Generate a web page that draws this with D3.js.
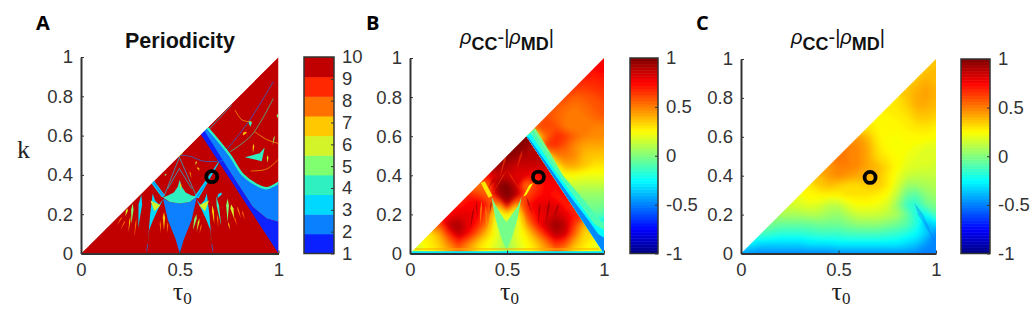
<!DOCTYPE html>
<html>
<head>
<meta charset="utf-8">
<script src="https://cdn.jsdelivr.net/npm/d3@7"></script>
<style>
  body { margin: 0; background: #fff; }
  text { font-family: 'Liberation Sans', Arial, sans-serif; }
  .axis path, .axis line { stroke: #333; }
  .axis text { font-size: 18.5px; fill: #333; font-family: 'Liberation Sans', Arial, sans-serif; }
</style>
</head>
<body>
<div id="chart"></div>
<script>
// tick labels
var kTicks = [0, 0.2, 0.4, 0.6, 0.8, 1];
var tauTicks = [0, 0.5, 1];
var periodTicks = [1, 2, 3, 4, 5, 6, 7, 8, 9, 10];
var corrTicks = [-1, -0.5, 0, 0.5, 1];

// the black ring, same place in every panel
var ringPoint = [0.662, 0.391];

// panel A: colour of each period, then the regions as [tau, k] outlines
var periodColors = ['#0a20ff', '#0a80ff', '#00d8ff', '#2ff0c0', '#80ff70', '#d2f428', '#ffc800', '#ff7000', '#ff2800', '#c00000'];
var wholeArea = [[0, 0], [1, 1], [1, 0]];
var bandDark = [[0.607, 0.605], [1, 0], [1, 0.16], [0.94, 0.178], [0.87, 0.237], [0.77, 0.39], [0.625, 0.625]];
var bandMid = [[0.622, 0.622], [0.77, 0.39], [0.87, 0.237], [0.94, 0.178], [1, 0.16], [1, 0.36], [0.939, 0.332], [0.889, 0.35], [0.82, 0.4], [0.754, 0.5], [0.64, 0.64]];
var spade = [[0.5, 0], [0.48, 0.07], [0.44, 0.17], [0.415, 0.28], [0.45, 0.262], [0.5, 0.255], [0.55, 0.262], [0.587, 0.29], [0.56, 0.17], [0.52, 0.07]];
var crescent = [[0.415, 0.285], [0.44, 0.295], [0.47, 0.31], [0.49, 0.34], [0.5, 0.375], [0.51, 0.34], [0.53, 0.31], [0.56, 0.295], [0.587, 0.29], [0.55, 0.262], [0.5, 0.255], [0.45, 0.262]];
var leftBand = [[0.355, 0.36], [0.37, 0.37], [0.425, 0.295], [0.41, 0.285]];
var leftBandCore = [[0.364, 0.36], [0.37, 0.362], [0.418, 0.295], [0.412, 0.292]];
var rightBand = [[0.575, 0.29], [0.595, 0.28], [0.655, 0.385], [0.7, 0.465], [0.695, 0.465], [0.64, 0.385]];
var rightBandCore = [[0.585, 0.29], [0.592, 0.287], [0.648, 0.38], [0.64, 0.37]];
var leftWedge = [[0.338, 0.05], [0.35, 0.2], [0.363, 0.305], [0.375, 0.27], [0.395, 0.25], [0.416, 0.275], [0.39, 0.225], [0.365, 0.17], [0.345, 0.12]];
var rightWedge = [[0.662, 0.05], [0.65, 0.2], [0.637, 0.305], [0.625, 0.27], [0.605, 0.25], [0.584, 0.275], [0.61, 0.225], [0.635, 0.17], [0.655, 0.12]];
var leftYellow = [[0.352, 0.27], [0.372, 0.215], [0.402, 0.245]];
var rightYellow = [[0.648, 0.27], [0.628, 0.215], [0.598, 0.245]];
var starRight = [[0.83, 0.49], [0.905, 0.51], [0.93, 0.54], [0.915, 0.47]];
var periodRegions = [
  [2, bandMid], [1, bandDark], [2, spade], [4, crescent], [3, leftBand], [2, leftBandCore],
  [3, rightBand], [2, rightBandCore], [3, leftWedge], [3, rightWedge], [6, leftYellow],
  [6, rightYellow], [4, starRight],
];

// panel A: thin curves [period, points]
var curveEdge = [[0.64, 0.64], [0.754, 0.5], [0.82, 0.4], [0.889, 0.35], [0.939, 0.332], [1, 0.36]];
var thinCurves = [
  [3, [[0.645, 0.628], [0.763, 0.756]]],
  [2, [[0.737, 0.527], [0.855, 0.68], [0.974, 0.875]]],
  [4, [[0.755, 0.518], [0.864, 0.603], [0.974, 0.79]]],
  [7, [[0.78, 0.73], [0.815, 0.68], [0.864, 0.67]]],
  [2, [[0.5, 0.5], [0.55, 0.495], [0.62, 0.47], [0.7, 0.47], [0.74, 0.475]]],
  [3, [[0.498, 0.49], [0.42, 0.29]]],
  [3, [[0.498, 0.49], [0.585, 0.29]]],
  [3, [[0.498, 0.433], [0.56, 0.33]]],
  [3, [[0.498, 0.433], [0.44, 0.33]]],
  [2, [[0.338, 0.05], [0.332, 0.01]]],
  [2, [[0.662, 0.05], [0.668, 0.01]]],
  [7, [[0.86, 0.42], [0.94, 0.43], [1, 0.48]]],
  [7, [[0.88, 0.62], [0.94, 0.58], [1, 0.56]]],
];

// panel A: small spikes [tip tau, tip k, top tau, top k, half width, period]
var periodSpikes = [
  [0.29, 0.13, 0.305, 0.3, 0.009, 3],
  [0.255, 0.15, 0.262, 0.255, 0.006, 5],
  [0.225, 0.19, 0.235, 0.23, 0.005, 6],
  [0.18, 0.14, 0.21, 0.19, 0.003, 8],
  [0.2, 0.12, 0.225, 0.17, 0.003, 8],
  [0.24, 0.11, 0.25, 0.19, 0.003, 7],
  [0.27, 0.08, 0.28, 0.18, 0.003, 8],
  [0.42, 0.12, 0.42, 0.21, 0.006, 7],
  [0.405, 0.1, 0.4, 0.17, 0.003, 8],
  [0.435, 0.1, 0.44, 0.16, 0.003, 8],
  [0.567, 0.12, 0.585, 0.2, 0.006, 5],
  [0.585, 0.11, 0.6, 0.18, 0.004, 6],
  [0.6, 0.1, 0.61, 0.15, 0.003, 8],
  [0.71, 0.14, 0.685, 0.29, 0.006, 4],
  [0.742, 0.16, 0.742, 0.28, 0.007, 5],
  [0.775, 0.18, 0.76, 0.25, 0.008, 6],
  [0.81, 0.18, 0.79, 0.24, 0.004, 8],
  [0.83, 0.17, 0.815, 0.22, 0.003, 8],
  [0.79, 0.14, 0.775, 0.19, 0.003, 8],
  [0.755, 0.12, 0.745, 0.16, 0.003, 7],
  [0.675, 0.15, 0.665, 0.245, 0.005, 7],
  [0.695, 0.13, 0.69, 0.2, 0.003, 8],
  [0.69, 0.28, 0.71, 0.31, 0.01, 3],
  [0.505, 0.32, 0.505, 0.36, 0.003, 7],
  [0.58, 0.45, 0.585, 0.47, 0.004, 6],
  [0.425, 0.395, 0.43, 0.405, 0.005, 5],
  [0.495, 0.49, 0.51, 0.52, 0.01, 6],
  [0.29, 0.29, 0.305, 0.32, 0.007, 3],
  [0.857, 0.645, 0.857, 0.675, 0.009, 4],
  [0.82, 0.6, 0.835, 0.62, 0.01, 7],
  [0.87, 0.51, 0.875, 0.56, 0.004, 7],
  [0.945, 0.46, 0.945, 0.5, 0.004, 6],
  [0.97, 0.55, 0.98, 0.6, 0.003, 5],
  [0.6, 0.42, 0.59, 0.44, 0.004, 7],
  [0.56, 0.38, 0.55, 0.42, 0.002, 7],
  [0.995, 0.69, 0.995, 0.71, 0.005, 5],
];

// panel B left of the edge: rows go up in k by 0.05, each row starts on the diagonal
var fieldBLeft = [
  [0.12, 0.2, 0.26, 0.3, 0.4, 0.5, 0.42, 0.3, 0.22, 0.15, 0.05, 0.15, 0.22, 0.3, 0.42, 0.5, 0.42, 0.3, 0.26, 0.2, 0.15],
  [0.2, 0.28, 0.35, 0.5, 0.65, 0.5, 0.35, 0.25, 0.18, 0.05, 0.18, 0.25, 0.35, 0.5, 0.68, 0.6, 0.4, 0.3, 0.22],
  [0.28, 0.42, 0.68, 0.88, 0.75, 0.55, 0.35, 0.2, 0.05, 0.2, 0.3, 0.5, 0.72, 0.9, 0.85, 0.55, 0.32],
  [0.6, 0.88, 0.92, 0.8, 0.7, 0.5, 0.15, 0.1, 0.15, 0.45, 0.7, 0.85, 0.95, 0.88, 0.65, 0.4],
  [0.75, 0.8, 0.8, 0.75, 0.6, 0.2, 0.3, 0.2, 0.6, 0.75, 0.8, 0.85, 0.8, 0.7],
  [0.7, 0.75, 0.8, 0.7, 0.4, 0.88, 0.4, 0.7, 0.8, 0.8, 0.8, 0.7],
  [0.7, 0.65, 0.55, 0.9, 1, 0.9, 0.6, 0.7, 0.75, 0.7, 0.75],
  [0.5, 0.55, 0.95, 1, 0.85, 0.5, 0.65, 0.75, 0.75],
  [0.75, 0.85, 0.85, 0.8, 0.8, 0.72, 0.8, 0.8],
  [0.95, 0.9, 0.85, 0.85, 0.85, 0.85],
  [0.98, 0.95, 0.9, 0.9],
  [1, 0.95, 0.9],
  [1, 0.95],
];

// panel B right of the edge: rows go up in k by 0.05, each row ends at tau = 1
var fieldBRight = [
  [-0.5, -0.6],
  [-0.35, -0.55],
  [-0.2, -0.4, -0.45],
  [-0.05, -0.1, -0.2, -0.3],
  [-0.03, -0.03, -0.04, -0.06, -0.1],
  [-0.02, -0.02, -0.02, -0.01, -0.01, -0.01],
  [0, 0.01, 0.03, 0.04, 0.04, 0.04, 0.04],
  [0, 0.04, 0.08, 0.12, 0.14, 0.13, 0.13, 0.13],
  [0, 0.02, 0.07, 0.16, 0.24, 0.25, 0.22, 0.22, 0.22],
  [0.03, 0.08, 0.18, 0.26, 0.42, 0.42, 0.36, 0.3, 0.3],
  [0.08, 0.12, 0.26, 0.48, 0.52, 0.48, 0.38, 0.36, 0.36],
  [0.18, 0.26, 0.64, 0.66, 0.58, 0.48, 0.42, 0.42, 0.42],
  [0.26, 0.54, 0.67, 0.64, 0.55, 0.5, 0.48, 0.48],
  [0.58, 0.62, 0.6, 0.52, 0.5, 0.5, 0.5, 0.5],
  [0.6, 0.56, 0.52, 0.52, 0.52, 0.55, 0.58],
  [0.58, 0.54, 0.52, 0.54, 0.58, 0.6],
  [0.62, 0.56, 0.58, 0.6, 0.64],
  [0.65, 0.64, 0.66, 0.68],
  [0.7, 0.7, 0.72],
  [0.74, 0.76],
  [0.78],
];

// panel B: sharp features laid over the two fields, [value, outline]
var areaBLeft = [[0, 0], [0.6, 0.6], [1, 0]];
var areaBRight = [[0.6, 0.6], [1, 1], [1, 0]];
var edgeGreen = [[0.6, 0.6], [0.644, 0.642], [0.72, 0.52], [0.8, 0.38], [0.84, 0.28], [0.8, 0.3]];
var edgeTeal = [[0.6, 0.6], [0.635, 0.63], [0.77, 0.42], [0.9, 0.27], [0.98, 0.17], [1, 0.16], [1, 0]];
var edgeCyan = [[0.6, 0.6], [0.62, 0.615], [0.75, 0.42], [0.87, 0.26], [0.95, 0.15], [1, 0.12], [1, 0]];
var edgeBlue = [[0.6, 0.6], [0.61, 0.595], [0.82, 0.3], [0.92, 0.17], [0.97, 0.1], [1, 0.08], [1, 0]];
var centreV = [[0.42, 0.29], [0.44, 0.18], [0.47, 0.08], [0.497, 0.02], [0.525, 0.08], [0.555, 0.18], [0.575, 0.29], [0.555, 0.24], [0.525, 0.2], [0.497, 0.16], [0.47, 0.2], [0.44, 0.25]];
var leftStreak = [[0.365, 0.36], [0.385, 0.37], [0.425, 0.295], [0.405, 0.285]];
var rightStreak = [[0.583, 0.29], [0.6, 0.3], [0.635, 0.36], [0.615, 0.35]];
var stripBlue = [[0, 0], [1, 0], [1, 0.012], [0, 0.012]];
var stripOrange = [[0.025, 0.02], [0.975, 0.02], [0.975, 0.026], [0.025, 0.026]];
var fieldBRegions = [
  [-0.02, edgeGreen], [-0.1, edgeTeal], [-0.25, edgeCyan], [-0.48, edgeBlue], [-0.02, centreV],
  [0.3, leftStreak], [0.25, rightStreak], [-0.3, stripBlue], [0.42, stripOrange],
];

// panel B: streaks [tip tau, tip k, top tau, top k, half width, value]
var fieldBSpikes = [
  [0.7, 0.15, 0.72, 0.28, 0.006, 1],
  [0.74, 0.18, 0.77, 0.26, 0.005, 1],
  [0.66, 0.14, 0.67, 0.26, 0.004, 1],
  [0.62, 0.05, 0.565, 0.25, 0.004, 0.36],
  [0.38, 0.05, 0.435, 0.25, 0.004, 0.36],
  [0.36, 0.14, 0.37, 0.27, 0.005, 0.4],
  [0.395, 0.12, 0.39, 0.25, 0.004, 0.45],
  [0.31, 0.12, 0.33, 0.24, 0.005, 1],
  [0.35, 0.17, 0.34, 0.27, 0.003, 1],
  [0.58, 0.3, 0.5, 0.43, 0.003, 0.6],
  [0.42, 0.3, 0.5, 0.43, 0.003, 0.6],
  [0.4, 0.33, 0.44, 0.39, 0.006, 0.95],
  [0.46, 0.38, 0.5, 0.52, 0.005, 0.62],
  [0.55, 0.43, 0.58, 0.53, 0.006, 0.65],
  [0.63, 0.2, 0.6, 0.29, 0.004, 1],
  [0.41, 0.2, 0.42, 0.27, 0.004, 1],
];

// panel C: rows go up in k by 0.05, each row starts on the diagonal
var fieldC = [
  [-0.42, -0.46, -0.48, -0.48, -0.48, -0.48, -0.48, -0.48, -0.48, -0.48, -0.46, -0.46, -0.46, -0.46, -0.46, -0.46, -0.46, -0.46, -0.48, -0.52, -0.48],
  [-0.28, -0.33, -0.33, -0.33, -0.33, -0.33, -0.3, -0.3, -0.3, -0.28, -0.28, -0.28, -0.28, -0.28, -0.28, -0.28, -0.32, -0.36, -0.45, -0.5],
  [-0.12, -0.15, -0.18, -0.18, -0.18, -0.16, -0.14, -0.14, -0.14, -0.12, -0.12, -0.12, -0.12, -0.14, -0.16, -0.2, -0.25, -0.35, -0.5],
  [-0.02, -0.05, -0.05, -0.05, -0.05, -0.03, -0.03, -0.03, 0, 0.03, 0.03, 0.03, 0, -0.03, -0.08, -0.18, -0.38, -0.3],
  [0.08, 0.08, 0.08, 0.1, 0.1, 0.06, 0.04, 0.1, 0.15, 0.15, 0.15, 0.12, 0.08, -0.04, -0.2, -0.25, -0.08],
  [0.16, 0.18, 0.2, 0.18, 0.12, 0.12, 0.2, 0.24, 0.24, 0.22, 0.18, 0.04, -0.14, -0.18, -0.04, 0],
  [0.22, 0.27, 0.27, 0.27, 0.27, 0.3, 0.3, 0.3, 0.28, 0.24, 0.12, -0.05, -0.08, 0.02, 0.06],
  [0.28, 0.35, 0.38, 0.35, 0.32, 0.32, 0.35, 0.35, 0.3, 0.18, 0.05, 0.05, 0.08, 0.1],
  [0.38, 0.45, 0.48, 0.45, 0.42, 0.42, 0.38, 0.3, 0.22, 0.15, 0.13, 0.13, 0.13],
  [0.45, 0.5, 0.5, 0.48, 0.42, 0.38, 0.32, 0.25, 0.2, 0.18, 0.18, 0.16],
  [0.5, 0.5, 0.48, 0.42, 0.32, 0.28, 0.25, 0.22, 0.2, 0.18, 0.18],
  [0.5, 0.48, 0.42, 0.3, 0.25, 0.24, 0.24, 0.22, 0.2, 0.2],
  [0.45, 0.38, 0.28, 0.25, 0.24, 0.26, 0.26, 0.26, 0.24],
  [0.3, 0.27, 0.25, 0.26, 0.28, 0.3, 0.3, 0.28],
  [0.27, 0.27, 0.28, 0.3, 0.35, 0.36, 0.33],
  [0.28, 0.3, 0.33, 0.4, 0.4, 0.38],
  [0.3, 0.36, 0.42, 0.43, 0.4],
  [0.36, 0.4, 0.43, 0.4],
  [0.36, 0.4, 0.4],
  [0.36, 0.38],
  [0.36],
];

// panel C: the dark streak near the right edge, same form as the other spikes
var fieldCSpikes = [
  [0.995, 0.06, 0.89, 0.26, 0.014, -0.55],
];

var gridStep = 0.05;
var gridSize = 21;

// set the dimensions of the page and of each panel
var width = 1031;
var height = 321;
var panelA = { left: 81, right: 278.5, top: 57, bottom: 253.5, barLeft: 304, barRight: 334, labelX: 180, letter: 'A', letterX: 36 };
var panelB = { left: 410, right: 604, top: 58, bottom: 253.5, barLeft: 630, barRight: 658, labelX: 507, letter: 'B', letterX: 366 };
var panelC = { left: 741, right: 936, top: 59, bottom: 253.5, barLeft: 961, barRight: 990, labelX: 838, letter: 'C', letterX: 696 };

var svg = d3.select('#chart').append('svg')
  .attr('width', width)
  .attr('height', height);

var defs = svg.append('defs');

// the reference is a soft photo: a light blur for marks, a wider one for the fields
defs.append('filter')
  .attr('id', 'soft')
  .attr('x', '-2%').attr('y', '-2%').attr('width', '104%').attr('height', '104%')
  .append('feGaussianBlur')
  .attr('stdDeviation', 0.5);
defs.append('filter')
  .attr('id', 'wide')
  .attr('x', '-2%').attr('y', '-2%').attr('width', '104%').attr('height', '104%')
  .append('feGaussianBlur')
  .attr('stdDeviation', 2);

// jet colour map for the correlation panels
var jet = d3.scaleLinear()
  .domain([-1, -0.75, -0.25, 0.25, 0.75, 1])
  .range(['#00007f', '#0000ff', '#00ffff', '#ffff00', '#ff0000', '#7f0000'])
  .clamp(true);

function periodColor(p) {
  return periodColors[p - 1];
}

function scalesFor(p) {
  return {
    x: d3.scaleLinear().domain([0, 1]).range([p.left, p.right]),
    y: d3.scaleLinear().domain([0, 1]).range([p.bottom, p.top]),
  };
}

function outlineFor(s) {
  return d3.line()
    .x(function (d) { return s.x(d[0]); })
    .y(function (d) { return s.y(d[1]); });
}

// a thin kite, narrow at the tip and widest near the top
function kite(d) {
  var mx = d[0] + (d[2] - d[0]) * 0.7;
  var my = d[1] + (d[3] - d[1]) * 0.7;
  return [[d[0], d[1]], [mx - d[4], my], [d[2], d[3]], [mx + d[4], my]];
}

// clip a panel group to an outline in [tau, k]
var clipCount = 0;
function clipped(parent, s, area) {
  clipCount += 1;
  var id = 'clip' + clipCount;
  defs.append('clipPath')
    .attr('id', id)
    .append('path')
    .attr('d', outlineFor(s)(area) + 'Z');
  return parent.append('g').attr('clip-path', 'url(#' + id + ')');
}

// turn the triangle rows into a full rectangle for d3.contours
function toGrid(rows, alignRight) {
  var values = [];
  for (var r = 0; r < gridSize; r++) {
    var row = rows[Math.min(r, rows.length - 1)];
    var start = alignRight ? gridSize - row.length : r;
    for (var c = 0; c < gridSize; c++) {
      var i = Math.max(0, Math.min(row.length - 1, c - start));
      values.push(row[i]);
    }
  }
  return values;
}

// filled contours of one field
function drawField(parent, s, rows, alignRight) {
  var contours = d3.contours()
    .size([gridSize, gridSize])
    .thresholds(d3.range(-1, 1.001, 0.025))(toGrid(rows, alignRight));
  var toScreen = d3.geoTransform({
    point: function (x, y) {
      this.stream.point(s.x((x - 0.5) * gridStep), s.y((y - 0.5) * gridStep));
    },
  });
  parent.append('g')
    .attr('filter', 'url(#wide)')
    .selectAll('path')
    .data(contours)
    .enter().append('path')
    .attr('d', d3.geoPath(toScreen))
    .attr('fill', function (d) { return jet(d.value + 0.0125); });
}

function drawSpikes(parent, s, spikes, opacity) {
  var line = outlineFor(s);
  parent.selectAll(null)
    .data(spikes)
    .enter().append('path')
    .attr('d', function (d) { return line(kite(d)) + 'Z'; })
    .attr('fill', function (d) { return jet(d[5]); })
    .attr('fill-opacity', opacity);
}

function drawAxes(p, s) {
  svg.append('g')
    .attr('class', 'axis')
    .attr('transform', 'translate(' + p.left + ',0)')
    .call(d3.axisLeft(s.y).tickValues(kTicks).tickFormat(String).tickSizeInner(-3).tickSizeOuter(0).tickPadding(8))
    .select('.domain').attr('stroke-width', 2);
  svg.append('g')
    .attr('class', 'axis')
    .attr('transform', 'translate(0,' + p.bottom + ')')
    .call(d3.axisBottom(s.x).tickValues(tauTicks).tickFormat(String).tickSizeInner(-3).tickSizeOuter(0).tickPadding(9))
    .select('.domain').attr('stroke-width', 2);

  // tau label
  var label = svg.append('text')
    .attr('x', (p.left + p.right) / 2 - 7)
    .attr('y', 300)
    .style('font-family', "'Liberation Serif', serif")
    .style('font-size', '26px')
    .style('fill', '#222')
    .text('τ');
  label.append('tspan')
    .attr('dy', 4)
    .style('font-size', '17px')
    .text('0');

  // panel letter
  svg.append('text')
    .attr('x', p.letterX)
    .attr('y', 30)
    .style('font-family', "'Open Sans', sans-serif")
    .style('font-weight', 'bold')
    .style('font-size', '20px')
    .style('fill', '#000')
    .text(p.letter);

  // the ring
  svg.append('circle')
    .attr('cx', s.x(ringPoint[0]))
    .attr('cy', s.y(ringPoint[1]))
    .attr('r', 5.5)
    .attr('fill', 'none')
    .attr('stroke', '#000')
    .attr('stroke-width', 3.8);
}

function drawCorrTitle(p) {
  var t = svg.append('text')
    .attr('x', p.labelX)
    .attr('y', 44)
    .style('text-anchor', 'middle')
    .style('font-size', '20px')
    .style('fill', '#111');
  t.append('tspan').style('font-style', 'italic').text('ρ');
  t.append('tspan').attr('dy', 6).style('font-weight', 'bold').style('font-size', '18px').text('CC');
  t.append('tspan').attr('dy', -6).text('-|');
  t.append('tspan').style('font-style', 'italic').text('ρ');
  t.append('tspan').attr('dy', 6).style('font-weight', 'bold').style('font-size', '18px').text('MD');
  t.append('tspan').attr('dy', -6).text('|');
}

// colour bar, bands drawn from a value scale
function drawBar(p, barScale, bands) {
  var bar = svg.append('g');
  bar.selectAll('rect')
    .data(bands)
    .enter().append('rect')
    .attr('x', p.barLeft)
    .attr('width', p.barRight - p.barLeft)
    .attr('y', function (d) { return barScale(d.to); })
    .attr('height', function (d) { return barScale(d.from) - barScale(d.to) + 0.5; })
    .attr('fill', function (d) { return d.color; });
  bar.append('rect')
    .attr('x', p.barLeft)
    .attr('y', p.top)
    .attr('width', p.barRight - p.barLeft)
    .attr('height', p.bottom - p.top)
    .attr('fill', 'none')
    .attr('stroke', '#333')
    .attr('stroke-width', 1.5);
}

function barAxis(p, scale, ticks) {
  svg.append('g')
    .attr('class', 'axis')
    .attr('transform', 'translate(' + p.barRight + ',0)')
    .call(d3.axisRight(scale).tickValues(ticks).tickFormat(String).tickSizeInner(-3).tickSizeOuter(0).tickPadding(8))
    .select('.domain').remove();
}

// Panel A
var sA = scalesFor(panelA);
var lineA = outlineFor(sA);
var curveA = outlineFor(sA).curve(d3.curveCatmullRom);
var marksA = clipped(svg.append('g').attr('filter', 'url(#soft)'), sA, wholeArea);

marksA.append('path')
  .attr('d', lineA(wholeArea) + 'Z')
  .attr('fill', periodColor(10));

marksA.selectAll('.region')
  .data(periodRegions)
  .enter().append('path')
  .attr('class', 'region')
  .attr('d', function (d) { return lineA(d[1]) + 'Z'; })
  .attr('fill', function (d) { return periodColor(d[0]); });

marksA.selectAll('.spike')
  .data(periodSpikes)
  .enter().append('path')
  .attr('class', 'spike')
  .attr('d', function (d) { return lineA(kite(d)) + 'Z'; })
  .attr('fill', function (d) { return periodColor(d[5]); });

marksA.selectAll('.thin')
  .data(thinCurves)
  .enter().append('path')
  .attr('class', 'thin')
  .attr('d', function (d) { return curveA(d[1]); })
  .attr('fill', 'none')
  .attr('stroke', function (d) { return periodColor(d[0]); })
  .attr('stroke-opacity', 0.7)
  .attr('stroke-width', 0.9);

marksA.append('path')
  .attr('d', curveA(curveEdge))
  .attr('fill', 'none')
  .attr('stroke', periodColor(4))
  .attr('stroke-width', 2.4);

drawAxes(panelA, sA);

svg.append('text')
  .attr('x', panelA.labelX)
  .attr('y', 48)
  .style('text-anchor', 'middle')
  .style('font-weight', 'bold')
  .style('font-size', '21.5px')
  .style('fill', '#111')
  .text('Periodicity');

svg.append('text')
  .attr('x', 17)
  .attr('y', 158)
  .style('font-family', "'Liberation Serif', serif")
  .style('font-size', '26px')
  .style('fill', '#222')
  .text('k');

var barA = d3.scaleLinear().domain([1, 10]).range([panelA.bottom, panelA.top]);
var bandA = d3.scaleLinear().domain([0, 10]).range([panelA.bottom, panelA.top]);
drawBar(panelA, bandA, periodTicks.map(function (v) {
  return { from: v - 1, to: v, color: periodColor(v) };
}));
barAxis(panelA, barA, periodTicks);

// Panel B
var sB = scalesFor(panelB);
var lineB = outlineFor(sB);
var softB = svg.append('g').attr('filter', 'url(#soft)');
drawField(clipped(softB, sB, areaBLeft), sB, fieldBLeft, false);
drawField(clipped(softB, sB, areaBRight), sB, fieldBRight, true);
var marksB = clipped(softB, sB, wholeArea);

drawSpikes(clipped(marksB, sB, areaBLeft), sB, fieldBSpikes, 0.6);

marksB.selectAll('.region')
  .data(fieldBRegions)
  .enter().append('path')
  .attr('class', 'region')
  .attr('d', function (d) { return lineB(d[1]) + 'Z'; })
  .attr('fill', function (d) { return jet(d[0]); });

drawAxes(panelB, sB);
drawCorrTitle(panelB);

function corrBands(p) {
  var bar = d3.scaleLinear().domain([-1, 1]).range([p.bottom, p.top]);
  drawBar(p, bar, d3.range(-1, 1, 1 / 32).map(function (v) {
    return { from: v, to: v + 1 / 32, color: jet(v + 1 / 64) };
  }));
  barAxis(p, bar, corrTicks);
}
corrBands(panelB);

// Panel C
var sC = scalesFor(panelC);
var marksC = clipped(svg.append('g').attr('filter', 'url(#soft)'), sC, wholeArea);
drawField(marksC, sC, fieldC, false);
drawSpikes(marksC, sC, fieldCSpikes, 0.35);
drawAxes(panelC, sC);
drawCorrTitle(panelC);
corrBands(panelC);
</script>
</body>
</html>
